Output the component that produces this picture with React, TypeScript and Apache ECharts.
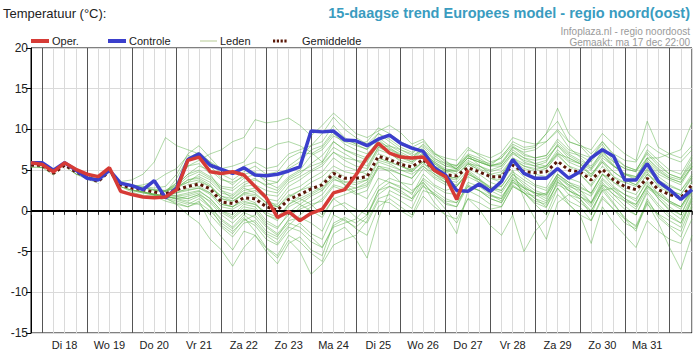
import React, { useEffect, useRef } from "react";
import * as echarts from "echarts";

const dayLabels = ["Di 18", "Wo 19", "Do 20", "Vr 21", "Za 22", "Zo 23", "Ma 24", "Di 25", "Wo 26", "Do 27", "Vr 28", "Za 29", "Zo 30", "Ma 31"];
const yTicks = [-15, -10, -5, 0, 5, 10, 15, 20];

const oper = [5.9, 5.7, 4.8, 5.9, 5.1, 4.5, 4.2, 5.3, 2.4, 2.0, 1.7, 1.6, 1.7, 2.6, 6.2, 6.6, 4.8, 4.6, 4.8, 4.4, 3.0, 1.6, -0.8, -0.1, -1.2, -0.3, 0.2, 2.2, 2.6, 4.4, 6.6, 8.3, 7.1, 6.6, 6.5, 6.6, 5.0, 4.2, 1.4, 5.0];
const controle = [5.9, 5.9, 5.0, 5.9, 5.0, 4.0, 3.8, 5.0, 3.4, 3.1, 2.6, 3.7, 1.6, 2.8, 6.3, 7.0, 5.6, 5.1, 4.6, 5.3, 4.4, 4.3, 4.5, 4.9, 5.4, 9.8, 9.7, 9.8, 8.7, 8.6, 8.0, 8.8, 9.3, 8.3, 7.7, 7.3, 5.3, 4.4, 2.5, 2.4, 3.3, 2.4, 3.6, 6.3, 4.6, 4.0, 4.0, 5.2, 4.0, 4.8, 6.5, 7.5, 6.7, 3.8, 3.8, 5.8, 3.6, 2.6, 1.4, 2.6];
const gemiddelde = [5.6, 5.6, 4.6, 5.6, 4.8, 4.1, 3.6, 4.9, 3.2, 2.8, 2.6, 2.3, 2.1, 2.6, 3.0, 3.3, 2.7, 1.1, 0.9, 1.6, 1.5, 0.5, 0.1, 1.4, 2.0, 2.7, 3.2, 4.6, 4.0, 4.0, 4.2, 6.7, 6.3, 5.7, 5.4, 6.3, 5.0, 4.4, 4.3, 5.3, 4.8, 4.2, 4.2, 5.6, 4.8, 4.7, 4.8, 6.1, 5.0, 4.8, 3.8, 5.1, 3.8, 3.0, 2.6, 4.0, 2.6, 2.0, 1.6, 3.2];

const lid01 = [5.4, 5.3, 4.4, 5.5, 4.5, 3.9, 3.4, 4.7, 3.0, 2.3, 1.9, 1.8, 1.2, 0.8, 0.5, 1.2, -1.5, -3.2, -4.8, -2.5, -3.0, -4.6, -5.8, -3.6, -5.0, -7.8, -6.5, -4.2, -3.5, -3.0, -1.2, 1.5, 2.0, 1.2, 0.3, 3.2, 1.0, -0.5, -2.8, 2.5, 1.8, 0.8, 0.5, 3.0, 2.2, 1.0, 0.4, 3.6, 2.0, 1.5, -0.5, 2.8, 1.0, -1.0, -2.5, 1.5, -0.8, -2.0, -3.2, 0.5];
const lid02 = [5.6, 5.6, 4.8, 5.7, 4.9, 4.3, 3.9, 5.1, 3.4, 3.1, 2.9, 2.6, 2.5, 3.4, 5.5, 6.2, 7.0, 7.5, 8.5, 9.0, 11.2, 10.8, 11.0, 11.4, 10.5, 9.2, 10.5, 12.0, 10.8, 9.5, 9.0, 9.8, 10.5, 9.6, 8.2, 8.8, 7.0, 6.2, 5.0, 6.5, 6.0, 5.5, 6.8, 8.2, 7.5, 7.8, 9.5, 11.0, 8.5, 8.0, 6.5, 8.2, 6.0, 5.2, 4.8, 7.5, 6.2, 5.0, 4.5, 6.8];
const lid03 = [5.5, 5.4, 4.5, 5.6, 4.6, 4.0, 3.6, 4.8, 3.3, 2.9, 2.7, 2.4, 2.2, 4.0, 6.5, 7.2, 6.0, 5.2, 5.5, 6.0, 7.8, 7.5, 8.2, 8.5, 8.0, 7.2, 6.0, 8.5, 7.5, 7.0, 6.5, 8.8, 7.6, 7.0, 6.2, 7.5, 6.4, 5.8, 5.6, 7.0, 6.5, 5.6, 5.8, 7.8, 7.2, 7.5, 8.5, 9.8, 7.8, 6.6, 5.2, 7.4, 5.6, 4.5, 4.0, 6.0, 4.5, 3.8, 3.2, 5.4];
const lid04 = [5.4, 5.5, 4.5, 5.5, 4.6, 4.1, 3.6, 4.8, 3.1, 2.6, 2.4, 1.9, 1.6, 1.2, 0.8, 1.5, 0.4, -1.8, -2.8, -1.0, -1.8, -3.5, -4.2, -2.5, -1.5, -2.8, -3.5, -0.5, -1.2, -2.0, -0.8, 2.5, 3.5, 3.0, 2.0, 4.5, 3.2, 2.5, 3.0, 4.8, 3.5, 2.0, 1.2, 3.8, 2.2, 0.8, -0.5, 2.8, 1.2, 0.5, -1.2, 1.8, 0.2, -1.5, -2.2, 0.8, -0.4, -1.2, -2.0, 1.5];
const lid05 = [5.6, 5.5, 4.7, 5.6, 4.8, 4.2, 3.8, 5.0, 3.3, 3.0, 3.2, 3.6, 4.5, 5.2, 6.8, 6.4, 5.5, 4.0, 3.2, 4.5, 4.8, 3.5, 2.8, 4.2, 5.0, 6.8, 7.5, 9.2, 8.5, 8.0, 7.6, 9.5, 8.8, 7.8, 7.2, 8.0, 6.8, 5.8, 5.2, 6.8, 5.6, 4.5, 4.0, 6.2, 5.2, 4.8, 5.2, 7.0, 6.5, 5.8, 4.2, 6.5, 5.5, 4.5, 3.8, 5.8, 4.2, 3.2, 2.5, 4.5];
const lid06 = [5.5, 5.4, 4.6, 5.5, 4.7, 4.0, 3.5, 4.8, 3.0, 2.5, 2.2, 2.0, 1.8, 1.5, 1.8, 2.2, 1.0, -0.5, -1.5, -0.2, -0.8, -2.5, -3.2, -1.0, 0.5, 1.2, 2.0, 3.8, 3.5, 3.2, 3.8, 6.5, 6.0, 5.5, 5.0, 6.8, 5.8, 5.0, 4.8, 6.0, 5.2, 4.5, 4.8, 6.5, 5.5, 5.2, 5.5, 7.2, 6.0, 5.4, 4.5, 6.0, 4.2, 3.5, 3.0, 4.8, 3.0, 2.2, 1.5, 3.6];
const lid07 = [5.5, 5.6, 4.6, 5.6, 4.7, 4.1, 3.8, 4.9, 3.2, 2.8, 2.5, 2.2, 1.9, 1.8, 1.5, 2.0, 0.5, -1.2, -2.2, -0.8, -2.5, -4.5, -5.5, -3.0, -3.8, -5.2, -6.2, -2.8, -2.0, -3.5, -5.8, -1.0, 2.5, 1.8, 1.2, 3.5, 2.0, 0.8, 0.5, 3.0, 2.5, 1.5, 1.0, 3.5, 2.8, 2.2, 2.0, 4.5, 3.5, 2.6, 1.0, 3.5, 2.0, 0.6, -0.5, 2.5, 0.8, -0.5, -1.5, 1.6];
const lid08 = [5.4, 5.5, 4.5, 5.6, 4.6, 4.0, 3.7, 4.9, 3.4, 3.0, 2.8, 2.5, 2.4, 2.8, 3.5, 3.8, 3.0, 1.5, 1.2, 2.0, 1.8, 0.5, 0.2, 1.6, 2.5, 3.5, 4.2, 5.5, 4.8, 4.5, 5.0, 7.5, 7.0, 6.5, 6.0, 7.2, 6.0, 5.0, 4.5, 5.8, 5.0, 4.0, 3.5, 5.5, 4.2, 3.2, 2.8, 5.2, 4.0, 3.5, 2.0, 4.5, 3.0, 2.0, 1.2, 3.8, 2.0, 1.0, 0.2, 2.5];
const lid09 = [5.6, 5.6, 4.7, 5.7, 4.8, 4.2, 3.8, 5.0, 3.2, 2.9, 2.7, 2.5, 2.0, 3.0, 4.2, 4.8, 4.0, 2.8, 2.5, 3.5, 4.0, 3.0, 2.5, 4.0, 4.8, 5.5, 6.0, 7.8, 7.0, 6.2, 5.5, 7.8, 7.2, 6.0, 5.2, 6.5, 5.2, 4.8, 5.0, 6.5, 6.0, 5.5, 6.0, 7.8, 6.8, 6.5, 6.8, 8.5, 7.2, 6.8, 6.0, 7.8, 6.5, 5.5, 5.0, 7.2, 5.8, 4.5, 4.0, 6.0];
const lid10 = [5.5, 5.5, 4.6, 5.6, 4.7, 4.1, 3.6, 4.8, 3.1, 2.7, 2.4, 2.2, 2.0, 2.2, 2.5, 2.8, 2.0, 0.5, 0.2, 1.0, 0.8, -0.5, -1.0, 0.5, 1.2, 2.0, 2.8, 4.2, 3.6, 3.5, 3.8, 6.2, 5.8, 5.0, 4.5, 5.5, 4.2, 3.5, 3.2, 4.5, 3.8, 3.0, 2.5, 4.5, 3.5, 2.5, 2.0, 4.0, 2.5, 1.5, 0.0, 2.5, 0.8, -0.8, -2.0, 1.0, -1.5, -4.5, -7.2, -3.0];
const lid11 = [5.5, 5.6, 4.5, 5.5, 4.6, 4.2, 3.8, 5.0, 3.5, 3.2, 3.0, 2.8, 3.0, 4.5, 7.0, 8.0, 6.5, 5.0, 4.5, 5.5, 6.0, 5.2, 5.5, 7.0, 7.5, 8.0, 8.5, 10.5, 9.0, 8.2, 7.5, 9.0, 8.0, 7.5, 6.8, 7.5, 5.8, 4.8, 4.2, 5.8, 5.0, 4.2, 4.5, 6.2, 5.5, 5.0, 5.5, 7.5, 6.2, 5.8, 5.0, 6.8, 5.5, 4.6, 4.2, 6.5, 5.0, 4.0, 3.5, 5.5];
const lid12 = [5.4, 5.4, 4.6, 5.5, 4.7, 4.0, 3.6, 4.8, 3.0, 2.6, 2.4, 2.1, 1.8, 1.4, 1.0, 0.8, -0.5, -2.0, -3.2, -1.5, -1.2, -2.8, -3.5, -1.8, -0.5, 0.5, 1.5, 3.2, 2.8, 2.0, 2.5, 5.5, 5.2, 4.5, 4.0, 5.8, 4.8, 4.0, 3.8, 5.5, 4.8, 4.2, 4.5, 6.5, 5.8, 5.5, 6.0, 8.2, 7.0, 6.2, 5.5, 7.2, 6.0, 5.2, 4.8, 6.5, 5.2, 4.2, 3.8, 5.8];
const lid13 = [5.6, 5.5, 4.6, 5.7, 4.8, 4.1, 3.8, 5.0, 3.6, 3.8, 4.5, 6.0, 9.0, 8.0, 7.5, 7.0, 6.0, 4.5, 3.8, 4.8, 5.5, 4.5, 4.8, 6.5, 7.2, 7.0, 7.8, 9.5, 8.2, 7.5, 7.0, 8.5, 7.8, 6.8, 6.0, 7.0, 6.0, 5.2, 4.8, 6.2, 5.5, 4.8, 5.2, 7.0, 6.2, 5.8, 6.2, 8.0, 6.5, 5.8, 4.5, 6.2, 4.8, 3.8, 3.2, 5.2, 3.5, 2.5, 2.0, 4.2];
const lid14 = [5.5, 5.5, 4.5, 5.6, 4.6, 4.0, 3.6, 4.8, 3.1, 2.6, 2.3, 2.0, 1.6, 0.8, -0.5, -1.5, -3.5, -4.8, -6.8, -4.5, -3.0, -5.0, -6.5, -4.0, -3.2, -4.8, -5.5, -1.5, -0.8, -1.5, -0.5, 2.0, 3.0, 2.5, 1.5, 4.0, 3.0, 2.2, 2.0, 4.2, 3.5, 2.8, 3.0, 5.0, 1.5, -1.0, -3.5, 1.0, 2.0, 1.0, 0.0, 2.5, 2.8, 1.5, 0.5, 3.2, 1.5, 0.2, -0.5, 2.2];
const lid15 = [5.5, 5.4, 4.7, 5.6, 4.8, 4.2, 3.7, 4.9, 3.2, 2.8, 2.6, 2.4, 2.2, 2.5, 3.2, 3.5, 2.8, 1.8, 1.5, 2.5, 2.8, 2.0, 1.8, 3.5, 4.2, 5.0, 5.8, 7.2, 6.2, 5.5, 5.2, 7.8, 8.0, 7.2, 6.5, 7.8, 6.5, 5.5, 5.2, 6.8, 6.2, 5.8, 6.5, 8.5, 7.8, 8.0, 9.5, 12.6, 9.5, 8.2, 7.0, 8.5, 6.8, 5.5, 5.0, 7.0, 5.5, 4.5, 4.0, 6.5];
const lid16 = [5.5, 5.5, 4.6, 5.6, 4.7, 4.1, 3.7, 4.9, 3.2, 2.8, 2.6, 2.3, 2.1, 2.8, 3.8, 4.2, 3.5, 2.2, 1.8, 3.0, 3.2, 2.5, 2.2, 3.8, 4.5, 5.8, 6.8, 8.5, 7.5, 6.8, 6.2, 8.0, 7.0, 6.2, 5.8, 7.0, 5.5, 4.5, 4.0, 5.2, 4.5, 3.5, 3.0, 4.8, 3.8, 3.0, 2.5, 4.5, 3.2, 2.8, 2.2, 4.5, 3.8, 3.5, 3.8, 6.5, 6.5, 7.0, 7.5, 10.8];
const lid17 = [5.5, 5.5, 4.6, 5.6, 4.7, 4.0, 3.7, 4.9, 3.2, 2.7, 2.5, 2.2, 2.0, 2.2, 2.8, 3.0, 2.2, 0.8, 0.5, 1.2, 0.8, -0.2, -0.8, 0.8, 1.5, 2.2, 3.0, 4.8, 4.0, 3.8, 4.5, 7.0, 6.5, 5.8, 5.2, 6.2, 4.8, 3.8, 3.5, 5.0, 4.0, 2.8, 2.2, 4.2, 2.8, 1.5, 0.5, 2.8, 0.8, -0.5, -4.0, 0.5, -1.5, -3.0, -4.5, -1.2, -2.5, -3.5, -4.0, -1.0];
const lid18 = [5.5, 5.4, 4.6, 5.5, 4.6, 4.1, 3.6, 4.8, 3.0, 2.6, 2.4, 2.1, 1.9, 1.8, 2.0, 2.4, 1.5, 0.0, -0.8, 0.5, 0.2, -1.5, -2.2, -0.2, 0.8, 1.8, 2.5, 4.0, 3.2, 2.8, 3.2, 5.5, 4.8, 3.5, 2.5, 3.5, 1.8, 0.2, -1.5, 1.5, 0.2, -1.8, -3.0, -0.5, -5.0, -2.5, -1.0, 2.0, 0.8, -0.5, -1.2, 1.5, 0.2, -1.0, -1.8, 1.2, -0.5, -1.8, -2.5, 0.8];
const lid19 = [5.6, 5.6, 4.7, 5.6, 4.8, 4.2, 3.8, 5.0, 3.3, 3.0, 2.8, 2.6, 2.5, 3.2, 4.5, 5.0, 4.2, 3.0, 2.8, 4.0, 4.5, 3.8, 3.5, 5.2, 6.0, 7.5, 8.0, 9.8, 8.8, 8.2, 8.5, 10.2, 9.5, 8.5, 7.8, 8.5, 7.2, 6.0, 5.5, 7.5, 7.0, 6.5, 7.2, 9.0, 8.5, 8.2, 8.5, 10.0, 8.5, 8.0, 7.5, 9.5, 8.2, 7.0, 6.2, 11.0, 7.8, 7.0, 6.5, 8.0];
const lid20 = [5.5, 5.5, 4.5, 5.6, 4.7, 4.1, 3.7, 4.8, 3.2, 2.8, 2.6, 2.3, 2.2, 2.4, 2.6, 2.8, 2.2, 0.8, 0.5, 1.5, 1.5, 0.8, 0.5, 1.8, 2.5, 3.0, 2.5, 4.5, 3.2, 2.2, 1.5, 4.0, 3.5, 2.8, 2.2, 3.8, 2.5, 1.5, 1.0, 3.2, 2.5, 1.8, 1.5, 3.8, 2.8, 2.2, 1.8, 4.2, 3.0, 2.5, 1.8, 4.0, 2.8, 2.0, 1.5, 3.5, 1.5, 0.0, -1.0, 1.8];
const lid21 = [5.5, 5.5, 4.6, 5.6, 4.7, 4.1, 3.7, 4.9, 3.2, 2.8, 2.6, 2.4, 2.3, 3.5, 5.5, 5.8, 4.5, 2.5, 1.5, 2.8, 2.2, 1.0, 0.5, 2.0, 1.5, 0.8, -0.5, 1.5, 0.5, -0.8, -1.5, 1.2, 1.0, 0.0, -0.8, 1.8, 0.5, -0.5, -1.0, 1.5, 1.0, 0.2, 0.5, 3.0, 2.2, 1.8, 2.2, 4.5, 3.5, 3.0, 2.2, 4.5, 3.5, 2.8, 2.5, 4.5, 3.2, 2.5, 2.0, 4.0];
const lid22 = [5.4, 5.5, 4.6, 5.5, 4.6, 4.1, 3.6, 4.8, 3.1, 2.7, 2.5, 2.2, 2.0, 1.9, 2.2, 2.5, 1.5, 0.0, -0.5, 0.8, 0.5, -1.2, -2.0, -0.5, 0.2, 0.8, 1.2, 3.0, 2.5, 2.8, 3.5, 6.0, 5.5, 5.0, 4.8, 6.2, 5.5, 5.0, 5.2, 6.5, 6.0, 5.5, 5.8, 7.5, 6.5, 6.2, 6.5, 8.0, 6.8, 6.0, 5.2, 7.0, 5.5, 4.5, 4.2, 6.2, 4.8, 4.0, 3.5, 5.5];
const lid23 = [5.6, 5.5, 4.7, 5.7, 4.8, 4.1, 3.8, 5.0, 3.3, 2.9, 2.7, 2.4, 2.3, 2.9, 3.8, 4.0, 3.2, 1.5, 1.0, 2.2, 2.5, 1.5, 1.2, 3.0, 3.8, 4.8, 5.5, 7.2, 6.5, 6.2, 6.0, 8.2, 7.5, 6.8, 6.5, 7.5, 6.2, 5.5, 5.5, 6.8, 6.2, 5.5, 5.5, 7.2, 6.0, 5.5, 5.2, 6.8, 5.5, 5.0, 4.2, 6.0, 4.8, 3.8, 3.2, 5.0, 3.8, 3.0, 2.5, 4.2];
const lid24 = [5.5, 5.4, 4.6, 5.6, 4.7, 4.0, 3.6, 4.9, 3.1, 2.7, 2.5, 2.2, 2.0, 2.5, 3.0, 3.2, 2.5, 1.0, 0.5, 1.5, 1.0, -0.5, -1.2, 0.8, 1.8, 2.5, 3.5, 5.0, 4.2, 3.8, 4.0, 6.5, 6.0, 5.5, 5.0, 6.0, 4.5, 3.5, 3.0, 4.5, 3.8, 2.8, 2.5, 4.5, 3.2, 2.2, 1.5, 3.8, 2.5, 1.8, 0.5, 3.0, 1.5, 0.2, -0.5, 2.2, 0.5, -0.8, -1.5, 1.2];
const lid25 = [5.5, 5.5, 4.6, 5.6, 4.7, 4.1, 3.7, 4.9, 3.2, 2.7, 2.4, 2.1, 1.8, 1.5, 1.2, 1.8, 0.5, -1.0, -2.0, -0.5, -1.5, -3.0, -4.0, -2.0, -2.5, -3.8, -4.5, -1.8, -1.0, -2.2, -3.0, 0.5, 1.5, 0.5, -0.5, 2.5, 2.0, 1.0, 0.5, 3.5, 3.0, 2.0, 1.5, 4.0, 3.0, 2.0, 1.2, 4.2, 3.2, 2.2, 1.0, 3.8, 2.5, 1.2, 0.2, 2.8, 1.8, 0.5, -0.5, 2.5];
const lid26 = [5.6, 5.5, 4.6, 5.6, 4.8, 4.1, 3.7, 5.0, 3.3, 2.9, 2.7, 2.5, 2.4, 3.0, 3.5, 4.5, 3.8, 2.5, 2.0, 3.2, 3.8, 3.2, 3.5, 5.5, 6.5, 8.0, 9.5, 11.5, 10.0, 9.0, 8.2, 9.5, 8.5, 7.5, 7.0, 8.2, 7.0, 6.5, 6.2, 7.8, 6.8, 6.0, 6.5, 8.0, 7.0, 6.5, 6.8, 8.8, 7.5, 7.0, 6.5, 8.5, 7.0, 6.2, 6.0, 8.2, 7.2, 6.5, 6.0, 7.5];
const lid27 = [5.5, 5.4, 4.5, 5.5, 4.6, 4.0, 3.5, 4.8, 3.0, 2.5, 2.2, 1.9, 1.5, 1.0, 0.5, 1.0, 0.0, -1.5, -2.5, -1.2, -0.5, -2.0, -3.0, -1.5, -2.0, -3.2, -4.5, -2.0, -1.5, -1.0, 0.5, 3.0, 4.0, 3.5, 3.2, 5.2, 4.0, 3.2, 3.0, 4.8, 3.8, 2.5, 1.8, 3.5, 2.5, 1.5, 1.0, 3.2, 2.5, 1.8, 1.0, 3.2, 2.0, 1.2, 0.8, 3.0, 2.0, 1.0, 0.5, 2.8];
const lid28 = [5.5, 5.5, 4.6, 5.6, 4.7, 4.1, 3.7, 4.9, 3.2, 2.8, 2.6, 2.4, 2.3, 3.2, 4.5, 5.5, 5.0, 3.8, 3.5, 4.2, 3.0, 1.5, 0.5, 1.5, 0.8, 0.0, -0.8, 1.5, 2.0, 2.5, 3.0, 5.2, 5.0, 4.5, 4.0, 5.5, 4.5, 3.8, 4.2, 5.8, 5.5, 5.0, 5.5, 7.2, 6.5, 5.8, 5.5, 7.0, 5.5, 4.5, 3.0, 5.0, 3.5, 2.5, 2.0, 4.0, 2.5, 1.2, 0.5, 2.5];
const lid29 = [5.6, 5.6, 4.7, 5.6, 4.8, 4.2, 3.8, 5.0, 3.3, 2.9, 2.6, 2.4, 2.2, 2.6, 3.0, 3.6, 3.0, 1.8, 1.2, 2.2, 2.0, 1.0, 0.8, 2.5, 3.0, 4.0, 4.8, 6.5, 5.5, 5.0, 4.5, 6.8, 6.2, 5.5, 4.8, 6.0, 5.0, 4.2, 4.0, 5.5, 4.8, 4.0, 3.8, 5.8, 5.0, 4.5, 4.2, 6.2, 5.2, 4.5, 3.2, 5.5, 4.2, 3.0, 2.5, 4.5, 3.5, 2.2, 1.5, 3.5];
const lid30 = [5.5, 5.4, 4.6, 5.5, 4.6, 4.0, 3.6, 4.8, 3.0, 2.6, 2.3, 2.0, 1.7, 1.6, 1.5, 2.0, 1.2, -0.2, -1.0, 0.2, 0.0, -1.8, -2.8, -1.2, -0.8, -1.5, -2.5, 0.5, 1.0, 0.2, -0.5, 2.5, 3.0, 2.2, 1.5, 3.0, 2.2, 1.2, 1.0, 3.0, 2.5, 1.5, 1.0, 3.2, 2.2, 1.2, 0.8, 3.5, 2.8, 1.8, 0.8, 3.2, 2.5, 1.5, 0.8, 3.0, 2.2, 1.2, 0.5, 2.6];

const leden = [lid01, lid02, lid03, lid04, lid05, lid06, lid07, lid08, lid09, lid10, lid11, lid12, lid13, lid14, lid15, lid16, lid17, lid18, lid19, lid20, lid21, lid22, lid23, lid24, lid25, lid26, lid27, lid28, lid29, lid30];

const FONT = "'Liberation Sans', Arial, sans-serif";
const C_OPER = "#d63b36";
const C_CTRL = "#3b3fcc";
const C_LID = "rgba(88,176,68,0.48)";
const C_MEAN = "#5a1808";

const pts = (arr: number[]) => arr.map((v, i) => [i, v]);

export default function App() {
  const ref = useRef<HTMLDivElement>(null);
  useEffect(() => {
    document.body.style.margin = "0";
    const chart = echarts.init(ref.current!, null, { renderer: "svg" });
    const lastStep = controle.length - 1;
    const midnights = Array.from({ length: dayLabels.length + 1 }, (_, k) => 1 + 4 * k);

    const series: any[] = [];
    series.push({
      name: "dagen",
      type: "line",
      data: [],
      silent: true,
      z: 1,
      markLine: {
        silent: true,
        symbol: "none",
        label: { show: false },
        lineStyle: { color: "#555", width: 1, type: "solid" },
        data: midnights.map((m) => ({ xAxis: m })),
      },
    });
    leden.forEach((arr) => {
      series.push({
        name: "Leden",
        type: "line",
        data: pts(arr),
        symbol: "none",
        silent: true,
        z: 2,
        lineStyle: { color: C_LID, width: 1 },
      });
    });
    series.push({
      name: "nul",
      type: "line",
      data: [],
      silent: true,
      z: 3,
      markLine: {
        silent: true,
        symbol: "none",
        label: { show: false },
        lineStyle: { color: "#000", width: 2, type: "solid" },
        data: [{ yAxis: 0 }],
      },
    });
    series.push({
      name: "Gemiddelde-achtergrond",
      type: "line",
      data: pts(gemiddelde),
      symbol: "none",
      silent: true,
      z: 4,
      lineStyle: { color: "#ffffff", width: 3 },
    });
    series.push({
      name: "Gemiddelde",
      type: "line",
      data: pts(gemiddelde),
      symbol: "none",
      silent: true,
      z: 5,
      lineStyle: { color: C_MEAN, width: 3, type: [3, 3], cap: "butt" },
    });
    series.push({
      name: "Controle",
      type: "line",
      data: pts(controle),
      symbol: "none",
      silent: true,
      z: 6,
      lineStyle: { color: C_CTRL, width: 3.5 },
    });
    series.push({
      name: "Oper.",
      type: "line",
      data: pts(oper),
      symbol: "none",
      silent: true,
      z: 7,
      lineStyle: { color: C_OPER, width: 3.5 },
    });

    const legendY = 41;
    const txt = (x: number, y: number, text: string, size: number, color: string, align = "left", weight = "normal") => ({
      type: "text",
      x,
      y,
      silent: true,
      style: { text, fill: color, fontSize: size, fontFamily: FONT, fontWeight: weight, align, verticalAlign: "middle" },
    });

    const option: any = {
      animation: false,
      backgroundColor: "#ffffff",
      grid: { left: 31, right: 6, top: 48, bottom: 25, show: true, borderColor: "#000", borderWidth: 1, backgroundColor: "transparent" },
      xAxis: {
        type: "value",
        min: 0,
        max: lastStep,
        interval: 1,
        axisLine: { show: true, lineStyle: { color: "#000", width: 1 } },
        axisTick: { show: true, length: 4, lineStyle: { color: "#333" } },
        splitLine: { show: true, lineStyle: { color: "#dadada", width: 1 } },
        axisLabel: {
          show: true,
          margin: 6,
          fontSize: 11,
          color: "#222",
          fontFamily: FONT,
          showMinLabel: true,
          showMaxLabel: true,
          formatter: (v: number) => {
            const k = (v - 3) / 4;
            return Number.isInteger(k) && k >= 0 && k < dayLabels.length ? dayLabels[k] : "";
          },
        },
      },
      yAxis: {
        type: "value",
        min: yTicks[0],
        max: yTicks[yTicks.length - 1],
        interval: yTicks[1] - yTicks[0],
        axisLine: { show: true, lineStyle: { color: "#000", width: 1 } },
        axisTick: { show: true, length: 5, lineStyle: { color: "#000" } },
        splitLine: { show: true, lineStyle: { color: "#dadada", width: 1 } },
        axisLabel: { fontSize: 12, color: "#222", fontFamily: FONT, margin: 3 },
      },
      series,
      graphic: [
        txt(3, 13, "Temperatuur (°C):", 13, "#222"),
        txt(690, 13, "15-daagse trend Europees model - regio noord(oost)", 14.5, "#3a9cc0", "right", "bold"),
        txt(690, 31, "Infoplaza.nl - regio noordoost", 10, "#9a9a9a", "right"),
        txt(690, 42, "Gemaakt: ma 17 dec 22:00", 10, "#9a9a9a", "right"),
        { type: "rect", silent: true, shape: { x: 31, y: legendY - 2, width: 18, height: 4 }, style: { fill: C_OPER } },
        txt(52, legendY, "Oper.", 11, "#222"),
        { type: "rect", silent: true, shape: { x: 108, y: legendY - 2, width: 18, height: 4 }, style: { fill: C_CTRL } },
        txt(129, legendY, "Controle", 11, "#222"),
        { type: "line", silent: true, shape: { x1: 200, y1: legendY, x2: 217, y2: legendY }, style: { stroke: "#cfdcb8", lineWidth: 1.5 } },
        txt(220, legendY, "Leden", 11, "#222"),
        { type: "line", silent: true, shape: { x1: 273, y1: legendY, x2: 287, y2: legendY }, style: { stroke: C_MEAN, lineWidth: 3, lineDash: [2.2, 1.6] } },
        txt(302, legendY, "Gemiddelde", 11, "#222"),
      ],
    };
    chart.setOption(option);
    return () => chart.dispose();
  }, []);
  return <div ref={ref} style={{ width: 698, height: 358 }} />;
}
